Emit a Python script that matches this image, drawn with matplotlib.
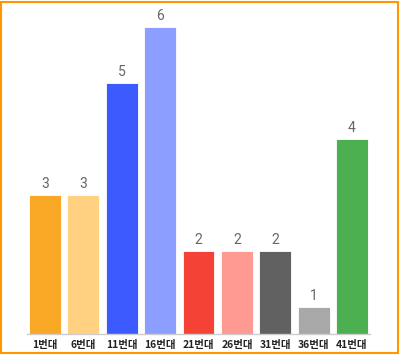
import matplotlib.pyplot as plt
from matplotlib.patches import Rectangle

plt.rcParams['font.family'] = ['Noto Sans CJK KR', 'DejaVu Sans']

labels = ['1번대', '6번대', '11번대', '16번대', '21번대', '26번대', '31번대', '36번대', '41번대']
counts = [3, 3, 5, 6, 2, 2, 2, 1, 4]
colors = ['#F9A825', '#FFD180', '#3D5AFE', '#8C9EFF', '#F44336',
          '#FF9A93', '#616161', '#A8A8A8', '#4CAF50']

W, H = 400, 355
fig = plt.figure(figsize=(W / 100, H / 100), dpi=100)
# axes in pixel box: x 27..370, y 10..334 (from top)
ax = fig.add_axes([27 / W, (H - 334) / H, (370 - 27) / W, (334 - 10) / H])

x = range(len(counts))
ax.bar(x, counts, width=0.83, color=colors, edgecolor='white', linewidth=0.6)
for i, v in zip(x, counts):
    ax.text(i, v + 0.07, str(v), ha='center', va='bottom',
            fontsize=10, color='#666666', family=['Roboto', 'DejaVu Sans'])

ax.set_xlim(-0.47, len(counts) - 1 + 0.47)
ax.set_ylim(0.52, 6.3)
ax.set_xticks(list(x))
ax.set_xticklabels(labels, fontsize=7.5, color='#222222', fontweight='bold')
ax.tick_params(axis='x', length=0, pad=4)
ax.set_yticks([])
for s in ['top', 'left', 'right']:
    ax.spines[s].set_visible(False)
ax.spines['bottom'].set_color('#cccccc')
ax.spines['bottom'].set_linewidth(1)

fig.patches.append(Rectangle((1 / W, 2 / H), (W - 3) / W, (H - 4) / H,
                             transform=fig.transFigure, fill=False,
                             edgecolor='#FF9800', linewidth=1.5))

fig.savefig('out.png', dpi=100)
